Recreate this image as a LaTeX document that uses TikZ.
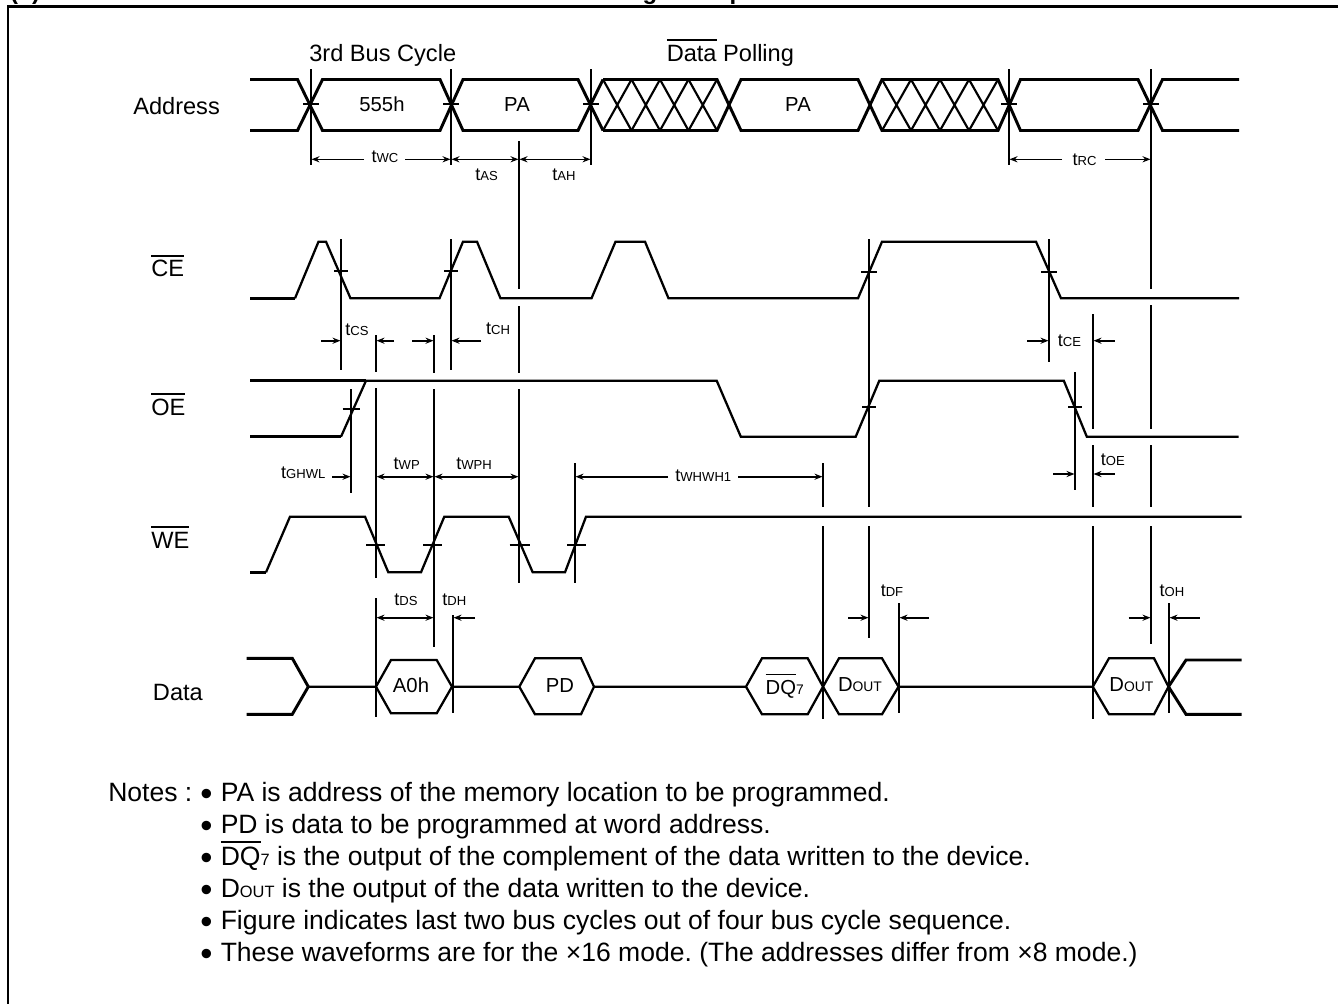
\documentclass[tikz,border=0pt]{standalone}
\usepackage{fontspec}
\setmainfont{Liberation Sans}
\usetikzlibrary{arrows.meta}
\frenchspacing
\newcommand{\ovbar}[2][0.85em]{\leavevmode\setbox0\hbox{#2}\rlap{\rule[#1]{\wd0}{1.35pt}}\box0\relax}
\newcommand{\tsub}[1]{t{\fontsize{9.8}{12}\selectfont #1}}
\newcommand{\dsub}[1]{{\fontsize{10.4}{12}\selectfont #1}}
\newcommand{\nsub}[1]{{\fontsize{12.3}{14}\selectfont #1}}
\tikzset{
	sigline/.style={line width=1.7pt,line join=miter},
	sigthick/.style={line width=2.2pt,line join=miter},
	guide/.style={line width=1.4pt},
	crossx/.style={line width=1.6pt},
	dimline/.style={line width=1.2pt,-{Stealth[length=6pt,width=4.6pt]}},
	biline/.style={line width=1.2pt,{Stealth[length=6pt,width=4.6pt]}-{Stealth[length=6pt,width=4.6pt]}},
	sigfont/.style={font=\fontsize{17.7}{21}\selectfont,inner sep=0pt,anchor=base west},
	hexfont/.style={font=\fontsize{15.2}{18}\selectfont,inner sep=0pt,anchor=base},
	timefont/.style={font=\fontsize{13.5}{16}\selectfont,inner sep=0pt},
	notefont/.style={font=\fontsize{19.9}{24}\selectfont,inner sep=0pt,anchor=base west},
	bulletfont/.style={font=\fontsize{26}{28}\selectfont,inner sep=0pt,anchor=base west},
	headfont/.style={font=\fontsize{18}{21}\bfseries\selectfont,inner sep=0pt,anchor=base},
}
\begin{document}
\begin{tikzpicture}[x=0.75pt,y=-0.75pt]
			\useasboundingbox (0,0) rectangle (1338,1003);
			\node (h1) at (14,-0.5) [headfont]{(};
			\node (h2) at (36,-0.5) [headfont]{)};
			\node (h3) at (650,-0.5) [headfont]{g};
			\node (h4) at (737,-0.5) [headfont]{p};
			\draw[line width=1.7pt] (8,1010) -- (8,6.5) -- (1345,6.5);
			
			\begin{scope}[every node/.style={sigfont}]
			\node (bus) at (309,61.3) {3rd Bus Cycle};
			\node (poll) at (666.5,61.3) {\ovbar[0.88em]{Data} Polling};
			\node (addr) at (133,114) {Address};
			\node (ce) at (151,276.7) {\ovbar{CE}};
			\node (oe) at (151,415) {\ovbar{OE}};
			\node (we) at (151,548.3) {\ovbar{WE}};
			\node (data) at (152.7,700.7) {Data};
			\end{scope}
			
			\draw[sigthick] (250,79.5) -- (297.5,79.5) -- (322.5,130.5) -- (440,130.5) -- (463,79.5) -- (578,79.5) -- (603,130.5);
			\draw[sigthick] (250,130.5) -- (297.5,130.5) -- (322.5,79.5) -- (440,79.5) -- (463,130.5) -- (578,130.5) -- (603,79.5);
			\draw[sigthick] (603,79.5) -- (717,79.5) -- (741,130.5) -- (858,130.5) -- (882,79.5) -- (998,79.5) -- (1020.5,130.5) -- (1138,130.5) -- (1162.5,79.5) -- (1239,79.5);
			\draw[sigthick] (603,130.5) -- (717,130.5) -- (741,79.5) -- (858,79.5) -- (882,130.5) -- (998,130.5) -- (1020.5,79.5) -- (1138,79.5) -- (1162.5,130.5) -- (1239,130.5);
			\draw[crossx] (603,79.5) -- (631.5,130.5) (603,130.5) -- (631.5,79.5);
			\draw[crossx] (631.5,79.5) -- (660,130.5) (631.5,130.5) -- (660,79.5);
			\draw[crossx] (660,79.5) -- (688.5,130.5) (660,130.5) -- (688.5,79.5);
			\draw[crossx] (688.5,79.5) -- (717,130.5) (688.5,130.5) -- (717,79.5);
			\draw[crossx] (882,79.5) -- (911,130.5) (882,130.5) -- (911,79.5);
			\draw[crossx] (911,79.5) -- (940,130.5) (911,130.5) -- (940,79.5);
			\draw[crossx] (940,79.5) -- (969,130.5) (940,130.5) -- (969,79.5);
			\draw[crossx] (969,79.5) -- (998,130.5) (969,130.5) -- (998,79.5);
			
			\draw[sigthick] (250,298.3) -- (295,298.3);
			\draw[sigline] (295,298.3) -- (318.5,241.7) -- (326,241.7) -- (350.5,298.3) -- (439.5,298.3) -- (463,241.7) -- (477,241.7) -- (500.5,298.3) -- (591.5,298.3) -- (615.5,241.7) -- (645,241.7) -- (668.5,298.3) -- (858,298.3) -- (882,241.7) -- (1036,241.7) -- (1061,298.3) -- (1239,298.3);
			
			\draw[sigthick] (250,380.7) -- (366,380.7);
			\draw[sigthick] (250,436.7) -- (341,436.7);
			\draw[sigline] (341,436.7) -- (366,380.7) -- (716.7,380.7) -- (740.8,436.7) -- (855.7,436.7) -- (879.3,380.7) -- (1063.8,380.7) -- (1086.8,436.7) -- (1238.5,436.7);
			
			\draw[sigthick] (250,572.3) -- (266,572.3);
			\draw[sigline] (266,572.3) -- (290,516.7) -- (365,516.7) -- (388.3,572.3) -- (421,572.3) -- (444.3,516.7) -- (508.7,516.7) -- (532.7,572.3) -- (565,572.3) -- (586,516.7) -- (1241.5,516.7);
			
			\draw[sigthick] (246.7,658.3) -- (292.3,658.3) -- (308.3,686.7) (246.7,714.3) -- (292.3,714.3) -- (308.3,686.7);
			\draw[sigline] (308.3,686.7) -- (376,686.7) -- (391,660) -- (436.7,660) -- (452,686.7) -- (436.7,713.3) -- (391,713.3) -- (376,686.7);
			\draw[sigline] (452,686.7) -- (519.3,686.7) -- (535,658.3) -- (581,658.3) -- (594,686.7) -- (581,714.3) -- (535,714.3) -- (519.3,686.7);
			\draw[sigline] (594,686.7) -- (746,686.7) -- (762,658.3) -- (807.7,658.3) -- (823,686.7) -- (807.7,714.3) -- (762,714.3) -- (746,686.7);
			\draw[sigline] (823,686.7) -- (839,658.3) -- (882,658.3) -- (898.5,686.7) -- (882,714.3) -- (839,714.3) -- (823,686.7);
			\draw[sigline] (898.5,686.7) -- (1092.8,686.7) -- (1109,658.3) -- (1154,658.3) -- (1168.5,686.7) -- (1154,714.3) -- (1109,714.3) -- (1092.8,686.7);
			\draw[sigthick] (1168.5,686.7) -- (1186,660) -- (1241.5,660) (1168.5,686.7) -- (1186,714.3) -- (1241.5,714.3);
			
			\begin{scope}[every path/.style={guide}]
			\draw (311,69) -- (311,165) (303,104) -- (319,104);
			\draw (451,69) -- (451,165) (443,104) -- (459,104);
			\draw (591,69) -- (591,165) (583,104) -- (599,104);
			\draw (1009,69) -- (1009,165) (1001,104) -- (1017,104);
			\draw (1151,69) -- (1151,288.7) (1151,305) -- (1151,428.7) (1151,445) -- (1151,506.7) (1151,526) -- (1151,644.3) (1143,104) -- (1159,104);
			\draw (519,141) -- (519,289.3) (519,306) -- (519,372.7) (519,389.3) -- (519,583.3) (509.5,545) -- (529.5,545);
			\draw (341,239) -- (341,370) (334,271) -- (348,271);
			\draw (451,239) -- (451,370) (444,271) -- (458,271);
			\draw (869,239) -- (869,506.7) (869,526) -- (869,637.7) (861,272) -- (877,272) (862,407) -- (876,407);
			\draw (1049,239) -- (1049,361.7) (1041,272) -- (1057,272);
			\draw (1093,314) -- (1093,428.7) (1093,445) -- (1093,506.7) (1093,526) -- (1093,719.3);
			\draw (376,335) -- (376,371.7) (376,388) -- (376,578) (376,598) -- (376,716.7) (366,545) -- (385,545);
			\draw (434,335) -- (434,372.7) (434,389.3) -- (434,646.7) (423,545) -- (442,545);
			\draw (351,389.3) -- (351,492.7) (342.5,409.3) -- (359.5,409.3);
			\draw (1075,372) -- (1075,490) (1068,407) -- (1082,407);
			\draw (575,463.3) -- (575,582.7) (567,545) -- (586,545);
			\draw (823,463.3) -- (823,506.7) (823,526) -- (823,719.3);
			\draw (453,615) -- (453,713.3);
			\draw (899,603.3) -- (899,713.3);
			\draw (1169,603.3) -- (1169,713.3);
			\end{scope}
			
			\begin{scope}[every node/.style={hexfont}]
			\node (n555) at (382,111) {555h};
			\node (pa1) at (517,111) {PA};
			\node (pa2) at (798,111) {PA};
			\node (a0h) at (411,692.7) {A0h};
			\node (pd) at (560,692.7) {PD};
			\node (dq7) at (784.7,694) {\ovbar[0.92em]{DQ}\dsub{7}};
			\node (dout1) at (860,691.7) {D\dsub{OUT}};
			\node (dout2) at (1131.4,691.7) {D\dsub{OUT}};
			\end{scope}
			
			\begin{scope}[every node/.style={timefont}]
			\node (twc) at (385,157) {\tsub{WC}};
			\node (tas) at (486.7,175) {\tsub{AS}};
			\node (tah) at (564,175) {\tsub{AH}};
			\node (trc) at (1084.6,160) {\tsub{RC}};
			\node (tcs) at (357,330) {\tsub{CS}};
			\node (tch) at (498,329) {\tsub{CH}};
			\node (tce) at (1069.5,340.7) {\tsub{CE}};
			\node (tghwl) at (303.3,473) {\tsub{GHWL}};
			\node (twp) at (406.7,463.3) {\tsub{WP}};
			\node (twph) at (474,463.3) {\tsub{WPH}};
			\node (twhwh) at (703.3,475.7) {\tsub{WHWH1}};
			\node (toe) at (1112.8,460) {\tsub{OE}};
			\node (tds) at (406,600) {\tsub{DS}};
			\node (tdh) at (454.3,600) {\tsub{DH}};
			\node (tdf) at (892,590.7) {\tsub{DF}};
			\node (toh) at (1172,590.7) {\tsub{OH}};
			\end{scope}
			
			\coordinate (wc1) at (364,159.3); \coordinate (wc2) at (311.5,159.3);
			\coordinate (wc3) at (405,159.3); \coordinate (wc4) at (450.5,159.3);
			\coordinate (as1) at (451.5,159.3); \coordinate (as2) at (518.5,159.3);
			\coordinate (ah1) at (519.5,159.3); \coordinate (ah2) at (590.5,159.3);
			\coordinate (rc1) at (1062,159.3); \coordinate (rc2) at (1009.5,159.3);
			\coordinate (rc3) at (1105,159.3); \coordinate (rc4) at (1150.5,159.3);
			\coordinate (cs1) at (321,340.7); \coordinate (cs2) at (340.5,340.7);
			\coordinate (cs3) at (394,340.7); \coordinate (cs4) at (376.5,340.7);
			\coordinate (ch1) at (412,340.7); \coordinate (ch2) at (433.5,340.7);
			\coordinate (ch3) at (481,340.7); \coordinate (ch4) at (451.5,340.7);
			\coordinate (ce1) at (1027.3,340.7); \coordinate (ce2) at (1048.5,340.7);
			\coordinate (ce3) at (1114.5,340.7); \coordinate (ce4) at (1093.5,340.7);
			\coordinate (gh1) at (332,476.7); \coordinate (gh2) at (350.5,476.7);
			\coordinate (wp1) at (376.5,476.7); \coordinate (wp2) at (433.5,476.7);
			\coordinate (wh1) at (434.5,476.7); \coordinate (wh2) at (518.5,476.7);
			\coordinate (ww1) at (668,476.7); \coordinate (ww2) at (575.5,476.7);
			\coordinate (ww3) at (738,476.7); \coordinate (ww4) at (822.5,476.7);
			\coordinate (oe1) at (1053,474); \coordinate (oe2) at (1074.5,474);
			\coordinate (oe3) at (1114.5,474); \coordinate (oe4) at (1093.5,474);
			\coordinate (ds1) at (376.5,617.7); \coordinate (ds2) at (433.5,617.7);
			\coordinate (dh1) at (475,617.7); \coordinate (dh2) at (453.5,617.7);
			\coordinate (df1) at (848,617.7); \coordinate (df2) at (868.5,617.7);
			\coordinate (df3) at (929,617.7); \coordinate (df4) at (899.5,617.7);
			\coordinate (oh1) at (1128.6,617.7); \coordinate (oh2) at (1150.5,617.7);
			\coordinate (oh3) at (1199.6,617.7); \coordinate (oh4) at (1169.5,617.7);
			
			\path[dimline] (wc1) edge (wc2);
			\path[dimline] (wc3) edge (wc4);
			\path[biline] (as1) edge (as2);
			\path[biline] (ah1) edge (ah2);
			\path[dimline] (rc1) edge (rc2);
			\path[dimline] (rc3) edge (rc4);
			\path[dimline] (cs1) edge (cs2);
			\path[dimline] (cs3) edge (cs4);
			\path[dimline] (ch1) edge (ch2);
			\path[dimline] (ch3) edge (ch4);
			\path[dimline] (ce1) edge (ce2);
			\path[dimline] (ce3) edge (ce4);
			\path[dimline] (gh1) edge (gh2);
			\path[biline] (wp1) edge (wp2);
			\path[biline] (wh1) edge (wh2);
			\path[dimline] (ww1) edge (ww2);
			\path[dimline] (ww3) edge (ww4);
			\path[dimline] (oe1) edge (oe2);
			\path[dimline] (oe3) edge (oe4);
			\path[biline] (ds1) edge (ds2);
			\path[dimline] (dh1) edge (dh2);
			\path[dimline] (df1) edge (df2);
			\path[dimline] (df3) edge (df4);
			\path[dimline] (oh1) edge (oh2);
			\path[dimline] (oh3) edge (oh4);
			
			\begin{scope}[every node/.style={bulletfont}]
			\node (b1) at (200,805) {•};
			\node (b2) at (200,837) {•};
			\node (b3) at (200,869) {•};
			\node (b4) at (200,901) {•};
			\node (b5) at (200,933) {•};
			\node (b6) at (200,965) {•};
			\end{scope}
			
			\begin{scope}[every node/.style={notefont}]
			\node (notes) at (108,801.5) {Notes :};
			\node (l1) at (220.5,801.5) {PA is address of the memory location to be programmed.};
			\node (l2) at (220.5,833.5) {PD is data to be programmed at word address.};
			\node (l3) at (220.5,865.5) {\ovbar{DQ}\nsub{7} is the output of the complement of the data written to the device.};
			\node (l4) at (220.5,897.5) {D\nsub{OUT} is the output of the data written to the device.};
			\node (l5) at (220.5,929.5) {Figure indicates last two bus cycles out of four bus cycle sequence.};
			\node (l6) at (220.5,961.5) {These waveforms are for the ×16 mode. (The addresses differ from ×8 mode.)};
			\end{scope}
			\end{tikzpicture}
\end{document}
